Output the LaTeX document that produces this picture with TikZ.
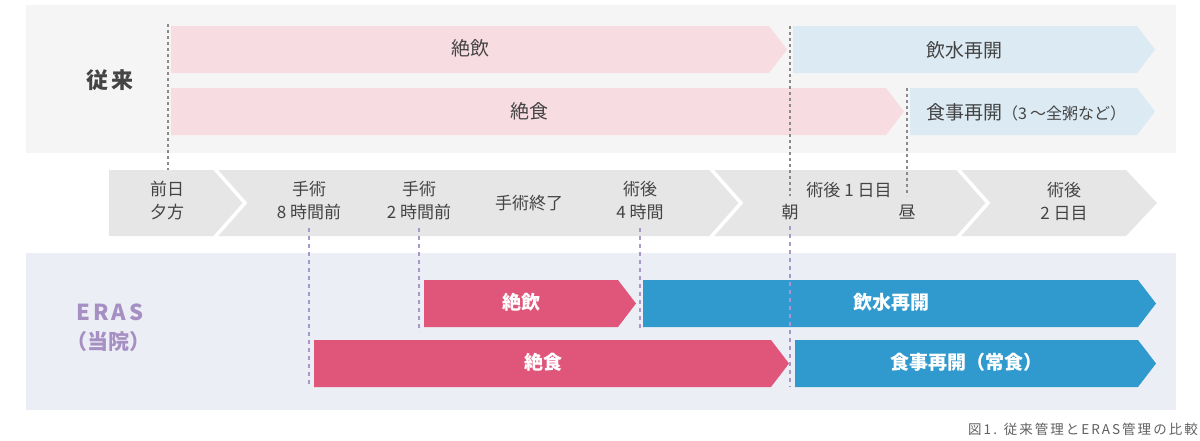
\documentclass[tikz,border=0pt]{standalone}
\usepackage{fontspec}
\setmainfont{Noto Sans CJK JP}
\newfontfamily\spacedfont[LetterSpace=14]{Noto Sans CJK JP}
\newfontfamily\capfont[LetterSpace=15]{Noto Sans CJK JP}
\definecolor{panelgray}{HTML}{F5F5F5}
\definecolor{panelblue}{HTML}{ECEEF6}
\definecolor{lpink}{HTML}{F7DCE2}
\definecolor{lblue}{HTML}{DCEAF4}
\definecolor{dpink}{HTML}{E0567B}
\definecolor{dblue}{HTML}{3099CD}
\definecolor{tlgray}{HTML}{E6E6E6}
\definecolor{txt}{HTML}{444444}
\definecolor{erascol}{HTML}{A68FC2}
\definecolor{dashg}{HTML}{8A8A8A}
\definecolor{dashp}{HTML}{A897C8}
\newcommand\arrowbar[5]{\fill[#1] (#2,#4) -- (#3,#4) -- ({#3+18},{(#4+#5)/2}) -- (#3,#5) -- (#2,#5) -- cycle;}
\tikzset{
  tltext/.style={text=txt, align=center, font=\fontsize{17}{23}\selectfont, inner sep=0pt},
  bartext/.style={text=txt, font=\fontsize{19}{22}\selectfont, inner sep=0pt},
  boldbar/.style={text=white, font=\fontsize{19}{22}\selectfont\bfseries, inner sep=0pt},
  gdash/.style={draw=dashg, line width=1.4pt, dash pattern=on 3pt off 3pt},
  pdash/.style={draw=dashp, line width=1.5pt, dash pattern=on 4pt off 4pt},
  sep/.style={draw=white, line width=3.5pt, miter limit=10}
}
\begin{document}
\begin{tikzpicture}[x=1pt,y=-1pt]
\useasboundingbox (0,0) rectangle (1200,440);
% panels
\fill[panelgray] (26,5) rectangle (1176,153);
\fill[panelblue] (26,253) rectangle (1176,410);
% top bars
\arrowbar{lpink}{171}{769}{26}{73}
\arrowbar{lblue}{793}{1137}{26}{73}
\arrowbar{lpink}{171}{886}{88}{135}
\arrowbar{lblue}{910}{1137}{88}{135}
% bottom bars
\arrowbar{dpink}{424}{618}{280}{327}
\arrowbar{dblue}{643}{1138}{280}{327}
\arrowbar{dpink}{314}{771}{340}{387}
\arrowbar{dblue}{795}{1138}{340}{387}
% timeline
\fill[tlgray] (109,170) -- (1126,170) -- (1157,203) -- (1126,236) -- (109,236) -- cycle;
\draw[sep] (214,168) -- (245,203) -- (214,238);
\draw[sep] (710,168) -- (741,203) -- (710,238);
\draw[sep] (957,168) -- (988,203) -- (957,238);
% dashed guides
\coordinate (g1a) at (168,24); \coordinate (g1b) at (168,170);
\coordinate (g2a) at (790,26); \coordinate (g2b) at (790,196);
\coordinate (g3a) at (907,88); \coordinate (g3b) at (907,196);
\draw[gdash] (g1a) -- (g1b);
\draw[gdash] (g2a) -- (g2b);
\draw[gdash] (g3a) -- (g3b);
\coordinate (p1a) at (309,228); \coordinate (p1b) at (309,387);
\coordinate (p2a) at (419,228); \coordinate (p2b) at (419,332);
\coordinate (p3a) at (640,228); \coordinate (p3b) at (640,332);
\coordinate (p4a) at (790,226); \coordinate (p4b) at (790,387);
\draw[pdash] (p1a) -- (p1b);
\draw[pdash] (p2a) -- (p2b);
\draw[pdash] (p3a) -- (p3b);
\draw[pdash] (p4a) -- (p4b);
% labels
\node[text=txt, font=\fontsize{22}{24}\selectfont\bfseries\spacedfont, inner sep=0pt] (conv) at (110,80) {従来};
\node[text=erascol, font=\fontsize{22}{24}\selectfont\bfseries\spacedfont, inner sep=0pt] (eras) at (110,312) {ERAS};
\node[text=erascol, font=\fontsize{21}{24}\selectfont\bfseries, inner sep=0pt] (tou) at (108,342) {（当院）};
% top bar texts
\node[bartext] (t1) at (470,48) {絶飲};
\node[bartext] (t2) at (964,50) {飲水再開};
\node[bartext] (t3) at (529,111) {絶食};
\node[bartext, anchor=west] (t4) at (926,112) {食事再開{\fontsize{16}{18}\selectfont（3\hspace{3pt}～全粥など）}};
% timeline texts
\node[tltext] (l1) at (167,201) {前日\\夕方};
\node[tltext] (l2) at (309,201) {手術\\8 時間前};
\node[tltext] (l3) at (419,201) {手術\\2 時間前};
\node[tltext] (l4) at (529,203) {手術終了};
\node[tltext] (l5) at (640,201) {術後\\4 時間};
\node[tltext] (l6) at (849,190) {術後 1 日目};
\node[tltext] (l7) at (790,212) {朝};
\node[tltext] (l8) at (907,212) {昼};
\node[tltext] (l9) at (1064,201) {術後\\2 日目};
% bottom bar texts
\node[boldbar] (b1) at (521,302) {絶飲};
\node[boldbar] (b2) at (891,302) {飲水再開};
\node[boldbar] (b3) at (543,362) {絶食};
\node[boldbar] (b4) at (966,362) {食事再開（常食）};
% caption
\node[anchor=east, text=txt!85, font=\fontsize{13.5}{15}\selectfont\capfont, inner sep=0pt] (cap) at (1198,429) {図1. 従来管理とERAS管理の比較};
\end{tikzpicture}
\end{document}
